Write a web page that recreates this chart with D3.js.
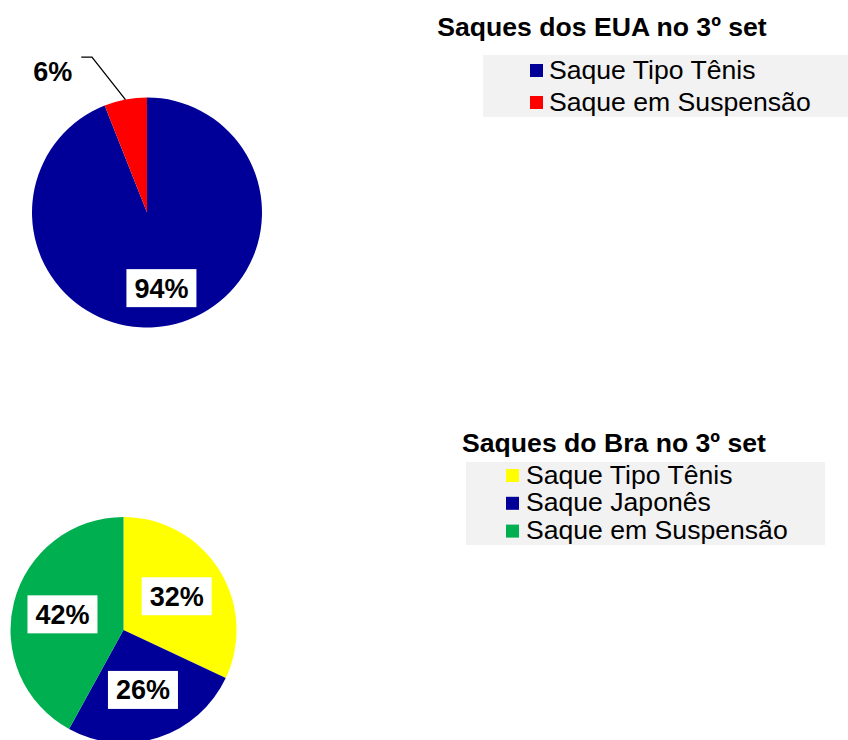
<!DOCTYPE html>
<html lang="pt">
<head>
    <meta charset="UTF-8">
    <title>Saques no 3º set</title>
    <script src="https://d3js.org/d3.v7.min.js"></script>
    <style>
        body { margin: 0; background: #fff; }
        text { font-family: 'Liberation Sans', Arial, sans-serif; fill: #000; }
        text.title { font-weight: bold; font-size: 26.6px; text-anchor: middle; }
        text.legend { font-size: 26.6px; }
        text.pct { font-weight: bold; font-size: 27px; text-anchor: middle; }
    </style>
</head>
<body>
<svg width="848" height="740"></svg>
<script>
    // EUA
    const euaTitle = "Saques dos EUA no 3º set";
    const euaCategories = ["Saque Tipo Tênis", "Saque em Suspensão"];
    const euaValues = [94, 6];
    const euaColors = ["#000099", "#FF0000"];

    // Brasil
    const braTitle = "Saques do Bra no 3º set";
    const braCategories = ["Saque Tipo Tênis", "Saque Japonês", "Saque em Suspensão"];
    const braValues = [32, 26, 42];
    const braColors = ["#FFFF00", "#000099", "#00B050"];

    const svg = d3.select("svg");
    const fmt = d3.format(".0%");

    drawPie({
        title: euaTitle, cats: euaCategories, vals: euaValues, colors: euaColors,
        cx: 147, cy: 212.5, r: 115, labelR: 77,
        titleX: 602, titleY: 36,
        box: {x: 483, y: 55, w: 370, h: 62},
        sqX: 530, sqSize: 13, textX: 549, firstBase: 78.5, step: 32
    });

    drawPie({
        title: braTitle, cats: braCategories, vals: braValues, colors: braColors,
        cx: 123.5, cy: 630, r: 113, labelR: 63,
        titleX: 614, titleY: 452,
        box: {x: 466, y: 462, w: 359, h: 83},
        sqX: 506, sqSize: 13, textX: 526, firstBase: 483.5, step: 27.8
    });

    function drawPie(c) {
        const total = d3.sum(c.vals);
        const color = d3.scaleOrdinal().domain(c.cats).range(c.colors);
        const pie = d3.pie().sort(null).value(d => d.v);
        const arcs = pie(c.cats.map((k, i) => ({k: k, v: c.vals[i]})));
        const arc = d3.arc().innerRadius(0).outerRadius(c.r);
        const labelArc = d3.arc().innerRadius(c.labelR).outerRadius(c.labelR);
        const edgeArc = d3.arc().innerRadius(c.r).outerRadius(c.r);

        const g = svg.append("g").attr("transform", `translate(${c.cx},${c.cy})`);
        g.selectAll("path.slice").data(arcs).enter().append("path")
            .attr("class", "slice")
            .attr("d", arc)
            .attr("fill", d => color(d.data.k));

        arcs.forEach(d => {
            const txt = fmt(d.data.v / total);
            if (d.data.v / total >= 0.1) {
                const [x, y] = labelArc.centroid(d);
                g.append("rect")
                    .attr("x", x - 35).attr("y", y - 19)
                    .attr("width", 70).attr("height", 38)
                    .attr("fill", "#fff");
                g.append("text").attr("class", "pct")
                    .attr("x", x).attr("y", y + 9.5)
                    .text(txt);
            } else {
                // small slice: label outside with leader line
                const [ex, ey] = edgeArc.centroid(d);
                const elbow = [ex - 33.5, ey - 42.5];
                const end = [elbow[0] - 10.7, elbow[1]];
                g.append("polyline")
                    .attr("points", [[ex, ey], elbow, end].map(p => p.join(",")).join(" "))
                    .attr("fill", "none").attr("stroke", "#000").attr("stroke-width", 1.3);
                g.append("text").attr("class", "pct")
                    .style("text-anchor", "end")
                    .attr("x", end[0] - 9).attr("y", end[1] + 23.5)
                    .text(txt);
            }
        });

        svg.append("text").attr("class", "title")
            .attr("x", c.titleX).attr("y", c.titleY)
            .text(c.title);

        svg.append("rect")
            .attr("x", c.box.x).attr("y", c.box.y)
            .attr("width", c.box.w).attr("height", c.box.h)
            .attr("fill", "#F2F2F2");

        const items = svg.append("g").selectAll("g").data(c.cats).enter().append("g")
            .attr("transform", (d, i) => `translate(0,${c.firstBase + i * c.step})`);
        items.append("rect")
            .attr("x", c.sqX).attr("y", -c.sqSize - 1.5)
            .attr("width", c.sqSize).attr("height", c.sqSize)
            .attr("fill", d => color(d));
        items.append("text").attr("class", "legend")
            .attr("x", c.textX).attr("y", 0)
            .text(d => d);
    }
</script>
</body>
</html>
